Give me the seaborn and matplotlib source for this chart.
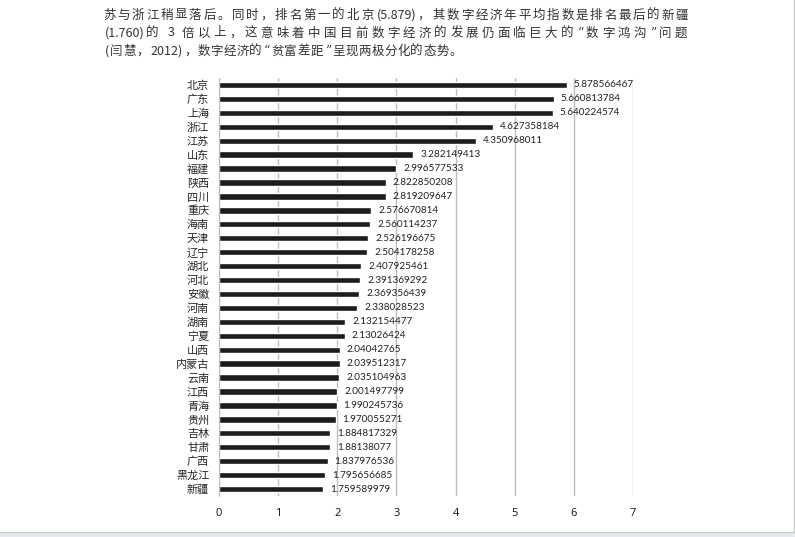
import re
import pandas as pd
import seaborn as sns
import matplotlib.pyplot as plt
from matplotlib import font_manager
from matplotlib.patches import Rectangle

provinces = ['北京', '广东', '上海', '浙江', '江苏', '山东', '福建', '陕西', '四川', '重庆',
             '海南', '天津', '辽宁', '湖北', '河北', '安徽', '河南', '湖南', '宁夏', '山西',
             '内蒙古', '云南', '江西', '青海', '贵州', '吉林', '甘肃', '广西', '黑龙江', '新疆']
scores = [5.878566467, 5.660813784, 5.640224574, 4.627358184, 4.350968011, 3.282149413,
          2.996577533, 2.822850208, 2.819209647, 2.576670814, 2.560114237, 2.526196675,
          2.504178258, 2.407925461, 2.391369292, 2.369356439, 2.338028523, 2.132154477,
          2.13026424, 2.04042765, 2.039512317, 2.035104963, 2.001497799, 1.990245736,
          1.970055271, 1.884817329, 1.88138077, 1.837976536, 1.795656685, 1.759589979]
x_ticks = [0, 1, 2, 3, 4, 5, 6, 7]

text_lines = [
    '苏与浙江稍显落后。同时，排名第一的北京(5.879)，其数字经济年平均指数是排名最后的新疆',
    '(1.760)的 3 倍以上，这意味着中国目前数字经济的发展仍面临巨大的“数字鸿沟”问题',
    '(闫慧，2012)，数字经济的“贫富差距”呈现两极分化的态势。',
]

sns.set_style('white')
plt.rcParams['font.family'] = ['Noto Sans CJK SC', 'DejaVu Sans']

installed = {f.name for f in font_manager.fontManager.ttflist}
if 'Liberation Sans Narrow' in installed:
    num_font, num_size = 'Liberation Sans Narrow', 8.4
else:
    num_font, num_size = 'Lato', 7.2

df = pd.DataFrame({'province': provinces, 'score': scores})

W, H = 795, 537
fig = plt.figure(figsize=(W / 100, H / 100), dpi=100)
ax = fig.add_axes([219 / W, 1 - 496 / H, 414 / W, 418 / H])

sns.barplot(data=df, x='score', y='province', color='#1c1c1c', width=0.45,
            saturation=1, ax=ax)
ax.bar_label(ax.containers[0], labels=[str(v) for v in scores], padding=5,
             fontsize=num_size, family=num_font, color='#222222')

ax.set_xlim(0, 7)
ax.set_xticks(x_ticks)
ax.set_xlabel('')
ax.set_ylabel('')
ax.grid(axis='x', color='#bdbdbd', linewidth=1)
ax.set_axisbelow(True)
for side in ['top', 'right', 'bottom']:
    ax.spines[side].set_visible(False)
ax.spines['left'].set_color('#bdbdbd')
ax.tick_params(axis='x', length=0, pad=9, labelsize=8)
ax.tick_params(axis='y', length=0, pad=7, labelsize=8)
for lbl in ax.get_xticklabels():
    lbl.set_family('Open Sans')
    lbl.set_color('#111111')

renderer = fig.canvas.get_renderer()


# document text above the chart, justified between x0 and x1 like the page
def draw_line(text, y, x0, x1):
    tokens = re.findall(r'[\x21-\x7e]+| |.', text)
    parts = []
    for t in tokens:
        if t == ' ':
            parts.append((None, 5.0, False))
            continue
        extra = {'family': 'DejaVu Serif'} if t in '“”' else {}
        a = fig.text(0, 1 - y / H, t, fontsize=9, va='center', ha='left',
                     color='#333333', **extra)
        cjk = t[0] > '\x7e' and t not in '“”'
        w = a.get_window_extent(renderer).width
        parts.append((a, w if cjk else w + 3, cjk))
    fixed = sum(w for a, w, c in parts if not c)
    n = sum(1 for a, w, c in parts if c)
    adv = (x1 - x0 - fixed) / n
    x = x0
    for a, w, c in parts:
        if a is not None:
            a.set_x((x if c else x + 1.5) / W)
        x += adv if c else w


draw_line(text_lines[0], 15, 103, 690)
draw_line(text_lines[1], 33, 103, 690)
draw_line(text_lines[2], 51, 103, 462)

# page frame and bottom toolbar strip
fig.patches.append(Rectangle((0, 0), 1, 5 / H, transform=fig.transFigure,
                             facecolor='#e6e9ee', edgecolor='none'))
fig.add_artist(plt.Line2D([0, 794 / W], [5 / H, 5 / H], color='#c8c8c8', lw=1))
fig.add_artist(plt.Line2D([794 / W, 794 / W], [5 / H, 1], color='#c8c8c8', lw=1))

fig.savefig('out.png', dpi=100)
